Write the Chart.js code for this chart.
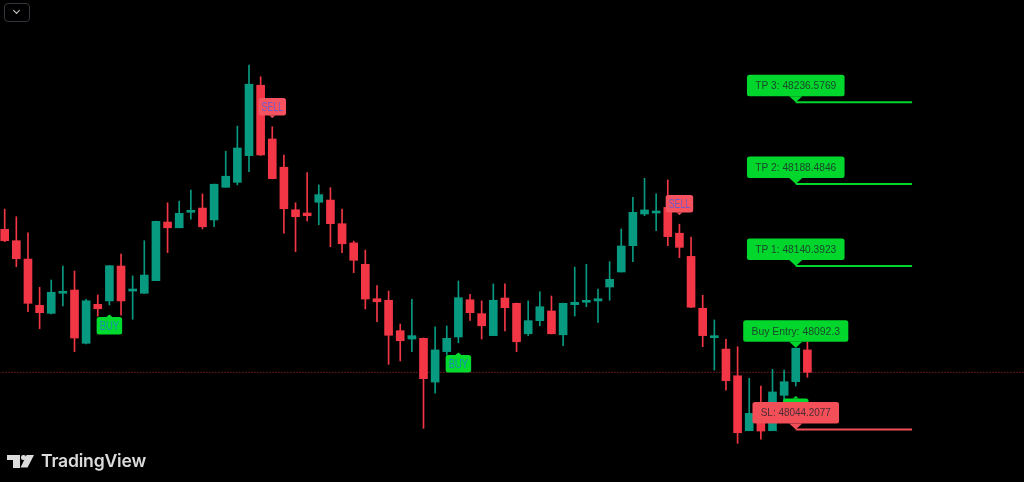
<!DOCTYPE html>
<html>
<head>
<meta charset="utf-8">
<script src="https://cdn.jsdelivr.net/npm/chart.js@4.4.1/dist/chart.umd.min.js"></script>
<style>
  html, body { margin: 0; padding: 0; background: #000; }
  #wrap { position: relative; width: 1024px; height: 482px; overflow: hidden; background: #000; }
  #c { position: absolute; left: 0; top: 0; }
  .menu { position: absolute; left: 4px; top: 3px; width: 24px; height: 17px; border: 1px solid #34363d; border-radius: 4px; }
  .menu i { position: absolute; left: 9px; top: 4px; width: 4px; height: 4px; border-right: 1.5px solid #d6d6d6; border-bottom: 1.5px solid #d6d6d6; transform: rotate(45deg); }
  .logo div { position: absolute; background: #dcdcdc; }
  .brand { position: absolute; left: 41px; top: 452px; font: 600 17.6px Inter, "Noto Sans", sans-serif; line-height: 17px; color: #dcdcdc; letter-spacing: -0.2px; }
</style>
</head>
<body>
<div id="wrap">
  <canvas id="c" width="1024" height="482"></canvas>
  <div class="menu"><i></i></div>
  <div class="logo">
    <div style="left:7px;top:455px;width:13px;height:5px;"></div>
    <div style="left:13px;top:455px;width:7px;height:12.5px;"></div>
    <div style="left:21px;top:455px;width:4.5px;height:4.5px;border-radius:50%;"></div>
    <div style="left:20px;top:455px;width:14px;height:12.5px;clip-path:polygon(47% 0,100% 0,54% 100%,4% 100%);"></div>
  </div>
  <div class="brand">TradingView</div>
</div>
<script>
// OHLC per bar
const opens  = [48161.9,48155.2,48144.4,48117.2,48112.5,48124.3,48126.2,48094.9,48117.8,48119.8,
                48140.3,48125.6,48124.3,48131.7,48166.2,48162.8,48171.9,48174.4,48167.4,48186.6,
                48189.5,48205.2,48246.6,48215.0,48198.4,48173.4,48171.5,48177.8,48179.1,48165.2,
                48153.9,48141.3,48121.1,48120.2,48102.3,48097.4,48097.8,48072.1,48090.0,48098.6,
                48120.5,48112.3,48099.4,48121.5,48118.4,48100.5,48108.2,48113.9,48099.9,48117.6,
                48119.0,48119.8,48128.0,48136.8,48152.3,48170.9,48171.5,48174.8,48159.6,48146.0,
                48115.5,48098.2,48091.5,48075.8,48043.5,48053.7,48043.5,48064.3,48072.3,48091.0];
const highs  = [48173.8,48169.3,48159.9,48127.8,48132.1,48140.3,48137.4,48120.8,48123.3,48140.7,
                48147.4,48134.5,48155.2,48166.8,48177.5,48178.5,48185.0,48182.7,48188.5,48207.8,
                48222.6,48258.5,48251.6,48222.2,48205.6,48177.5,48195.2,48188.0,48186.4,48173.8,
                48155.0,48149.7,48128.8,48125.6,48106.2,48120.8,48098.0,48104.5,48105.1,48131.5,
                48123.7,48119.8,48129.8,48129.8,48118.6,48119.8,48125.2,48122.7,48118.6,48139.7,
                48141.3,48126.8,48142.9,48162.1,48180.7,48191.9,48182.7,48190.9,48164.9,48157.4,
                48123.1,48108.6,48097.2,48092.9,48074.3,48069.8,48079.6,48079.2,48092.0,48095.8];
const lows   = [48154.6,48139.9,48113.5,48103.5,48112.1,48116.8,48090.0,48094.5,48110.9,48117.4,
                48111.5,48109.0,48124.3,48131.7,48148.2,48162.8,48167.8,48162.1,48163.4,48186.6,
                48188.0,48195.8,48205.3,48191.5,48159.6,48148.7,48166.8,48164.6,48151.7,48148.2,
                48136.4,48115.1,48107.6,48082.5,48084.5,48090.0,48044.9,48065.5,48088.0,48095.2,
                48108.4,48097.4,48099.4,48102.1,48090.0,48099.4,48105.2,48100.4,48093.5,48110.9,
                48116.4,48107.2,48120.2,48136.8,48142.9,48169.9,48161.1,48152.3,48145.2,48115.9,
                48092.9,48079.2,48067.4,48036.1,48043.5,48038.5,48043.5,48061.6,48069.8,48074.9];
const closes = [48155.2,48144.6,48118.4,48112.9,48124.9,48125.2,48098.0,48119.9,48115.2,48140.5,
                48119.8,48126.8,48135.0,48166.6,48162.8,48171.3,48172.7,48163.4,48188.4,48193.1,
                48209.7,48247.2,48205.6,48191.7,48174.0,48169.3,48169.9,48182.3,48165.2,48153.4,
                48143.7,48120.9,48119.3,48099.6,48096.4,48099.4,48074.1,48091.0,48097.8,48121.7,
                48112.9,48105.2,48120.2,48115.8,48095.8,48108.2,48116.4,48100.5,48118.4,48119.0,
                48119.8,48121.1,48132.5,48152.1,48171.9,48173.3,48172.1,48157.6,48151.3,48116.1,
                48099.4,48098.8,48072.9,48042.3,48053.7,48043.3,48066.3,48072.3,48092.0,48077.8];

// signal markers (bar index, price of the marker tip)
const buyBars = [9, 39, 68];
const buyAt = [48111.8, 48089.5, 48063.9];
const sellBars = [23, 58];
const sellAt = [48227.3, 48170.3];

// trade levels
const tpNames = ['TP 1', 'TP 2', 'TP 3'];
const tpLevels = ['48140.3923', '48188.4846', '48236.5769'];
const entryPrice = '48092.3';
const slPrice = '48044.2077';
const entryBar = 68;
const levelEndBar = 78;

const UP = '#089981', DOWN = '#f23645';
const GREEN = '#00d62c', RED = '#f34f59';
const n = closes.length;
const last = closes[n - 1];
const barColors = closes.map((c, i) => c >= opens[i] ? UP : DOWN);

const levelLine = (price, color) => ({
  type: 'line',
  data: [{x: entryBar, y: +price}, {x: levelEndBar, y: +price}],
  borderColor: color, borderWidth: 2, pointRadius: 0, order: 0
});

function box(ctx, cx, tipY, dir, text, o) {
  ctx.font = o.font;
  const tw = Math.min(ctx.measureText(text).width, o.maxW || 1e9);
  const w = tw + o.padX * 2, h = o.h;
  const top = dir === 'down' ? tipY - o.ptrH - h : tipY + o.ptrH;
  const edge = dir === 'down' ? top + h : top;
  ctx.fillStyle = o.bg;
  ctx.beginPath();
  ctx.roundRect(cx - w / 2, top, w, h, 2.5);
  ctx.fill();
  ctx.beginPath();
  ctx.moveTo(cx - o.ptrW, edge);
  ctx.lineTo(cx + o.ptrW, edge);
  ctx.lineTo(cx, tipY);
  ctx.closePath();
  ctx.fill();
  ctx.fillStyle = o.fg;
  ctx.textAlign = 'center';
  ctx.textBaseline = 'middle';
  ctx.fillText(text, cx, top + h / 2 + 0.5, o.maxW || undefined);
}

const labelsPlugin = {
  id: 'signals',
  afterDatasetsDraw(chart) {
    const {ctx, scales: {x, y}} = chart;
    ctx.save();
    const sig = {font: '13px "Liberation Sans"', padX: 3, h: 17.5, ptrH: 2.5, ptrW: 3, fg: 'rgba(41,98,255,0.65)'};
    sellBars.forEach((b, i) => box(ctx, x.getPixelForValue(b), y.getPixelForValue(sellAt[i]), 'down', 'SELL',
      Object.assign({}, sig, {bg: '#f7525f', maxW: 21.5})));
    buyBars.forEach((b, i) => box(ctx, x.getPixelForValue(b), y.getPixelForValue(buyAt[i]), 'up', 'BUY',
      Object.assign({}, sig, {bg: '#00d92e', maxW: 19.5})));
    const lvl = {font: '11.2px "Liberation Sans"', padX: 8.3, h: 21.5, ptrH: 6, ptrW: 6.5, fg: 'rgba(34,36,44,0.8)'};
    const cx = x.getPixelForValue(entryBar);
    tpLevels.forEach((p, i) => box(ctx, cx, y.getPixelForValue(+p), 'down', tpNames[i] + ': ' + p,
      Object.assign({}, lvl, {bg: GREEN, maxW: 81})));
    box(ctx, cx, y.getPixelForValue(+entryPrice), 'down', 'Buy Entry: ' + entryPrice, Object.assign({}, lvl, {bg: GREEN, maxW: 88.5}));
    box(ctx, cx, y.getPixelForValue(+slPrice), 'down', 'SL: ' + slPrice, Object.assign({}, lvl, {bg: RED, maxW: 70}));
    ctx.restore();
  }
};

new Chart(document.getElementById('c'), {
  type: 'bar',
  data: {
    datasets: [
      {
        type: 'line',
        data: [{x: -2, y: last}, {x: 90, y: last}],
        borderColor: 'rgba(242,54,69,0.75)', borderWidth: 1, borderDash: [1, 2],
        pointRadius: 0, order: 5
      },
      {
        data: lows.map((l, i) => ({x: i, y: [l, highs[i]]})),
        backgroundColor: barColors, barThickness: 1, grouped: false, order: 3
      },
      {
        data: opens.map((o, i) => ({x: i, y: [o, closes[i]]})),
        backgroundColor: barColors, barThickness: 8, minBarLength: 2, grouped: false, order: 2
      },
      levelLine(tpLevels[0], GREEN),
      levelLine(tpLevels[1], GREEN),
      levelLine(tpLevels[2], GREEN),
      levelLine(slPrice, RED)
    ]
  },
  options: {
    responsive: false,
    devicePixelRatio: 1,
    animation: false,
    layout: {padding: 0},
    plugins: {legend: {display: false}, tooltip: {enabled: false}},
    scales: {
      x: {type: 'linear', min: -0.404, max: 87.62, offset: false, display: false},
      y: {type: 'linear', min: 48013.35, max: 48296.71, display: false}
    }
  },
  plugins: [labelsPlugin]
});
</script>
</body>
</html>
